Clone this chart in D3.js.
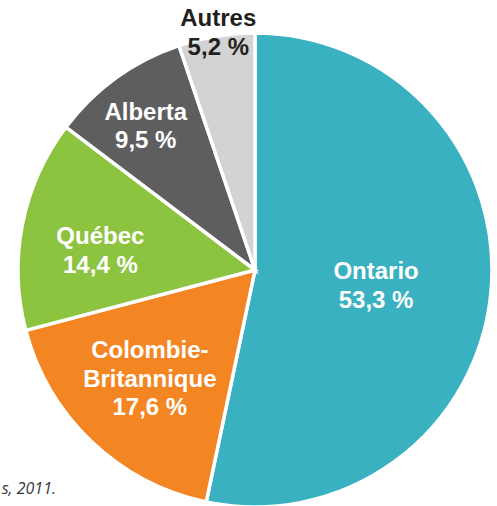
<!DOCTYPE html>
<html>
<head>
<meta charset="utf-8">
<script src="https://cdn.jsdelivr.net/npm/d3@7/dist/d3.min.js"></script>
<style>
  html, body { margin: 0; padding: 0; background: #ffffff; overflow: hidden; }
  svg { display: block; }
</style>
</head>
<body>
<svg id="chart" width="497" height="506"></svg>
<script>
// ---- data ----
const categories = ["Ontario", "Colombie-Britannique", "Québec", "Alberta", "Autres"];
const labelLines = [["Ontario"], ["Colombie-", "Britannique"], ["Québec"], ["Alberta"], ["Autres"]];
const values = [53.3, 17.6, 14.4, 9.5, 5.2];
const valueLabels = ["53,3 %", "17,6 %", "14,4 %", "9,5 %", "5,2 %"];
const sourceNote = "s, 2011.";

// ---- style / layout ----
const colors = ["#3AB1C1", "#F38522", "#8DC43F", "#5E5E5E", "#D3D3D3"];
const textColors = ["#ffffff", "#ffffff", "#ffffff", "#ffffff", "#231F20"];
const labelRadiusFrac = [0.515, 0.637, 0.658, 0.764, 1.017];
const labelAngleShiftDeg = [1.2, 0.6, -3.7, -1.3, 0.6];

const W = 497, H = 506;
const cx = 255, cy = 270, R = 237;
const fontSize = 24, lineH = 28.5, capH = 17;

const svg = d3.select("#chart");
const g = svg.append("g").attr("transform", `translate(${cx},${cy})`);

const pie = d3.pie().sort(null).value(d => d.value).startAngle(0).endAngle(2 * Math.PI);
const data = categories.map((c, i) => ({ name: c, value: values[i], i }));
const arcs = pie(data);
const arc = d3.arc().innerRadius(0).outerRadius(R);

g.selectAll("path.slice")
  .data(arcs)
  .join("path")
  .attr("class", "slice")
  .attr("d", arc)
  .attr("fill", d => colors[d.data.i])
  .attr("stroke", "#ffffff")
  .attr("stroke-width", 3.5)
  .attr("stroke-linejoin", "miter");

g.selectAll("text.lbl")
  .data(arcs)
  .join("text")
  .attr("class", "lbl")
  .attr("text-anchor", "middle")
  .attr("font-family", "'Liberation Sans', Arial, Helvetica, sans-serif")
  .attr("font-weight", "bold")
  .attr("font-size", fontSize)
  .attr("fill", d => textColors[d.data.i])
  .each(function(d) {
    const i = d.data.i;
    const mid = (d.startAngle + d.endAngle) / 2 + labelAngleShiftDeg[i] * Math.PI / 180;
    const r = labelRadiusFrac[i] * R;
    const lx = r * Math.sin(mid);
    const ly = -r * Math.cos(mid);
    const lines = labelLines[i].concat([valueLabels[i]]);
    const n = lines.length;
    const firstBaseline = ly - (n - 1) * lineH / 2 + capH / 2;
    const t = d3.select(this);
    lines.forEach((ln, k) => {
      t.append("tspan")
        .attr("x", lx)
        .attr("y", firstBaseline + k * lineH)
        .text(ln);
    });
  });

svg.append("text")
  .attr("x", 56)
  .attr("y", 494)
  .attr("text-anchor", "end")
  .attr("font-family", "'Open Sans', 'Noto Sans', sans-serif")
  .attr("font-style", "italic")
  .attr("font-size", 16)
  .attr("fill", "#3a3a3a")
  .text(sourceNote);
</script>
</body>
</html>
